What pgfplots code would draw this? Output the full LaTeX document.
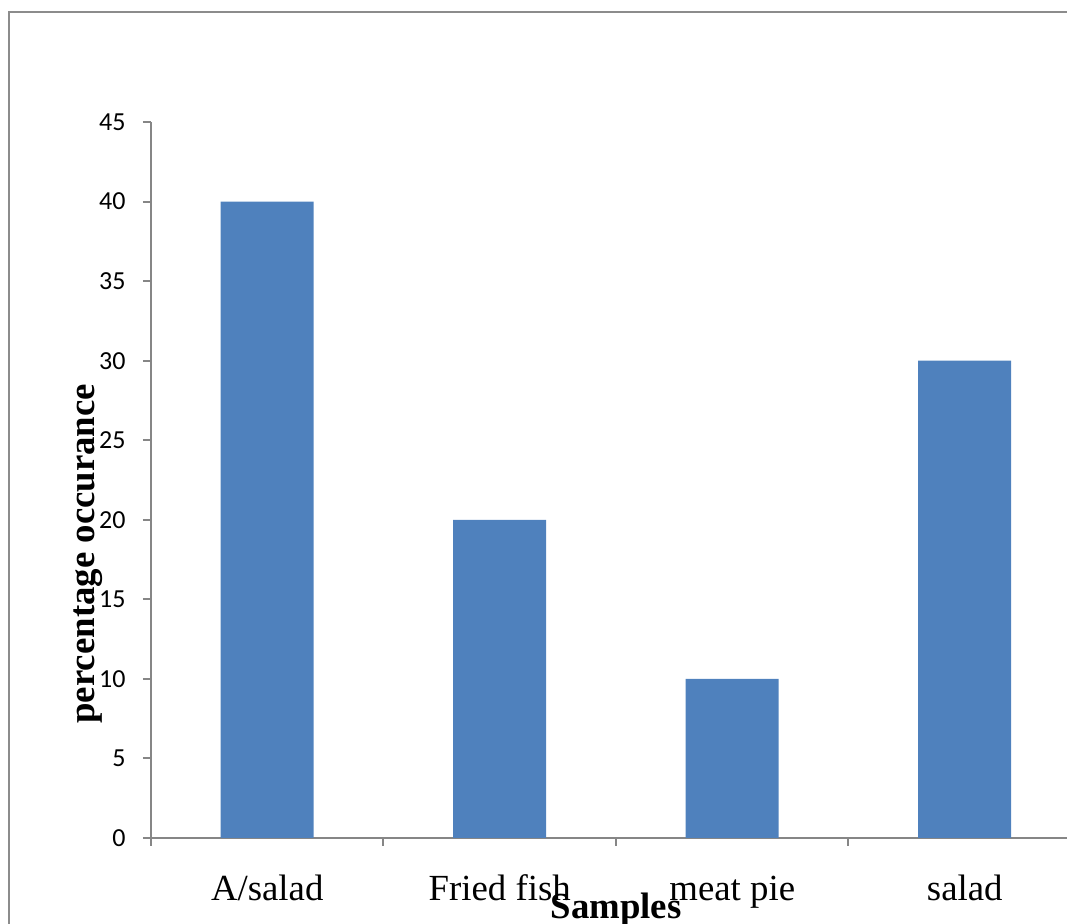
\documentclass[border=0pt]{standalone}
\usepackage{pgfplots}
\pgfplotsset{compat=1.18}
\usepackage{fontspec}
\setmainfont{Liberation Serif}
\newfontfamily\calibri{Carlito}
\definecolor{barblue}{HTML}{4F81BD}
\definecolor{axgray}{HTML}{868686}
\definecolor{framegray}{HTML}{8C8C8C}

\begin{document}
\begin{tikzpicture}
\useasboundingbox (0,0) rectangle (533.5pt,462pt);
\clip (0,0) rectangle (533.5pt,462pt);
% chart area frame
\draw[framegray, line width=1pt] (4.5pt,-10pt) -- (4.5pt,456pt) -- (560pt,456pt);
\begin{axis}[
  at={(75.5pt,43pt)}, anchor=south west,
  scale only axis, width=465pt, height=358pt,
  xmin=-0.5, xmax=3.5, ymin=0, ymax=45,
  ytick={0,5,...,45},
  xtick={0,1,2,3},
  xticklabels={A/salad, Fried fish, meat pie, salad},
  minor xtick={-0.5,0.5,1.5,2.5,3.5},
  axis lines*=left,
  axis line style={axgray, line width=1pt},
  tick align=outside,
  major tick length=4pt, minor tick length=4pt,
  major x tick style={draw=none},
  minor x tick style={axgray, line width=1pt},
  ytick style={axgray, line width=1pt},
  /pgf/number format/assume math mode=true,
  yticklabel style={font=\calibri\fontsize{13}{15}\selectfont, anchor=east, inner sep=0pt, xshift=-8.5pt},
  xticklabel style={font=\fontsize{18.4}{20}\selectfont, anchor=base, inner sep=0pt, yshift=-27.5pt},
  xticklabel shift=0pt,
  xlabel={\textbf{Samples}},
  xlabel style={font=\fontsize{18.4}{20}\selectfont, at={(axis description cs:0.5,0)}, anchor=base, inner sep=0pt, yshift=-40.5pt},
  ylabel={\textbf{percentage occurance}},
  ylabel style={font=\fontsize{18.4}{20}\selectfont, at={(axis description cs:-0.0677,0.397)}, anchor=center, inner sep=0pt},
  ybar, bar width=0.4,
]
\addplot[fill=barblue, draw=none] coordinates {(0,40) (1,20) (2,10) (3,30)};
\end{axis}
\end{tikzpicture}
\end{document}
